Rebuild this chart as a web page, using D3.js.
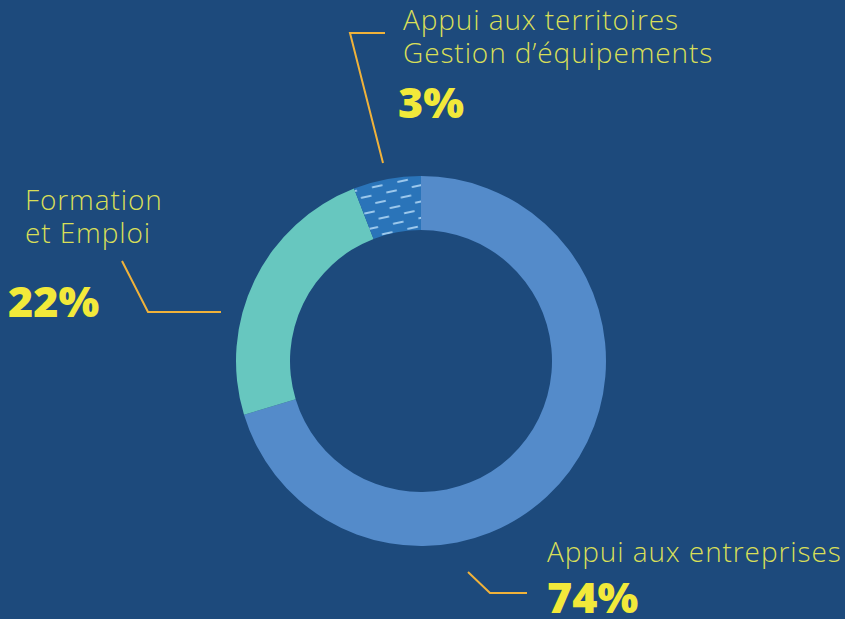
<!DOCTYPE html>
<html><head><meta charset="utf-8">
<script src="https://cdn.jsdelivr.net/npm/d3@7"></script>
<style>
html,body{margin:0;padding:0;background:#1d4a7c;}
svg{display:block;}
</style></head>
<body>
<svg id="chart" width="845" height="619"></svg>
<script>
// ---- data ----
const categories = ["Appui aux entreprises", "Formation et Emploi", "Appui aux territoires Gestion d’équipements"];
const sliceShares = [70.3, 23.8, 5.9];           // shares as drawn in the ring
const percentLabels = ["74%", "22%", "3%"];       // printed percentages
const labelLines = [["Appui aux entreprises"], ["Formation", "et Emploi"], ["Appui aux territoires", "Gestion d’équipements"]];

// ---- layout ----
const W = 845, H = 619;
const cx = 421, cy = 361, outerR = 185, innerR = 131;
const colors = ["#548bca", "#67c7bf", "url(#hatch)"];
const labelLayout = [
  {x: 547, y: 562, lh: 33, px: 547, py: 613, pSize: 43, line: [[468, 572], [490, 593], [527, 593]]},
  {x: 25, y: 210, lh: 33, px: 8, py: 317, pSize: 43, line: [[122, 261], [148, 312], [221, 312]]},
  {x: 403, y: 30, lh: 33, px: 398, py: 118, pSize: 43, line: [[385, 33], [350, 33], [383, 163]]}
];

const svg = d3.select("#chart");
svg.append("rect").attr("width", W).attr("height", H).attr("fill", "#1d4a7c");

const defs = svg.append("defs");
const pat = defs.append("pattern").attr("id", "hatch").attr("patternUnits", "userSpaceOnUse")
  .attr("width", 26).attr("height", 16).attr("patternTransform", "rotate(-12)");
pat.append("rect").attr("width", 26).attr("height", 16).attr("fill", "#2a74b9");
[[2, 4], [15, 12]].forEach(([x, y]) => {
  pat.append("line").attr("x1", x).attr("x2", x + 9).attr("y1", y).attr("y2", y)
    .attr("stroke", "#9cc8ec").attr("stroke-width", 2.2).attr("stroke-linecap", "round");
});

const pie = d3.pie().sort(null).value(d => d)(sliceShares);
const arc = d3.arc().innerRadius(innerR).outerRadius(outerR);

const g = svg.append("g").attr("transform", `translate(${cx},${cy})`);
g.selectAll("path").data(pie).join("path")
  .attr("d", arc)
  .attr("fill", (d, i) => colors[i]);

// leader lines
const line = d3.line();
svg.selectAll("path.leader").data(labelLayout).join("path")
  .attr("class", "leader")
  .attr("d", d => line(d.line))
  .attr("fill", "none").attr("stroke", "#f0b23a").attr("stroke-width", 2);

// labels
labelLayout.forEach((L, i) => {
  labelLines[i].forEach((t, j) => {
    svg.append("text").attr("x", L.x).attr("y", L.y + j * L.lh)
      .attr("font-family", "'Open Sans', sans-serif").attr("font-weight", 300)
      .attr("font-size", 28).attr("letter-spacing", 0.9).attr("fill", "#d8df58").text(t);
  });
  svg.append("text").attr("x", L.px).attr("y", L.py)
    .attr("font-family", "'Open Sans', sans-serif").attr("font-weight", 800)
    .attr("font-size", L.pSize).attr("fill", "#f2e93a").text(percentLabels[i]);
});
</script>
</body></html>
